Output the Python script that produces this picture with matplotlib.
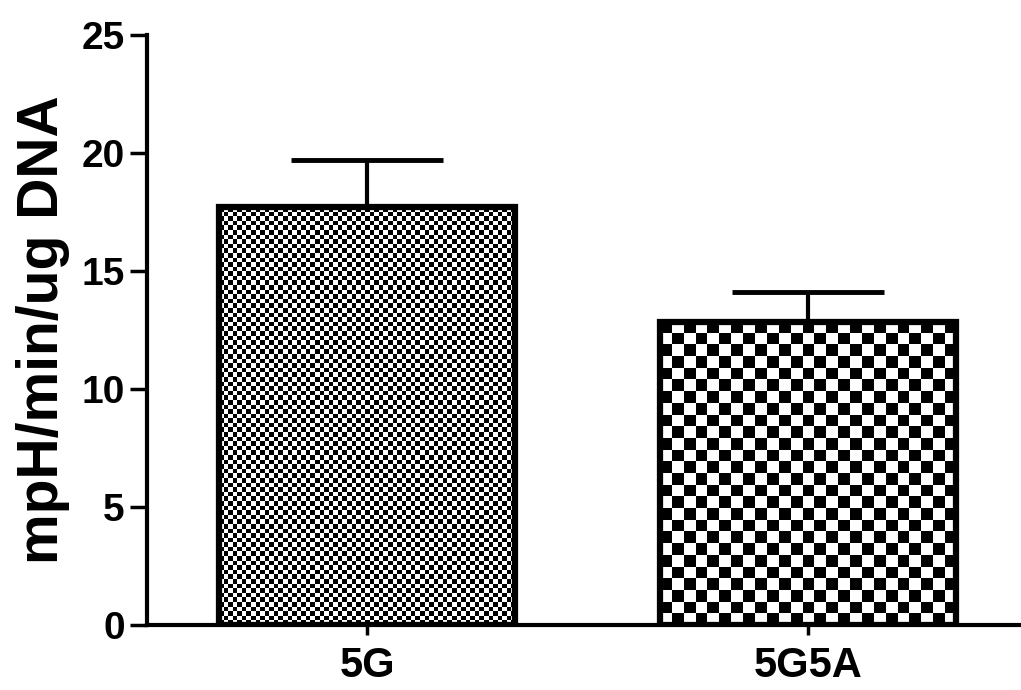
import numpy as np
import matplotlib
matplotlib.use("Agg")
import matplotlib.pyplot as plt

# data
groups = ["5G", "5G5A"]
means = [17.7, 12.85]
sem_up = [2.0, 1.25]
cell_px = [4.6, 11.8]   # checker size of each fill, in pixels

plt.rcParams["font.family"] = ["Liberation Sans", "DejaVu Sans"]
plt.rcParams["font.weight"] = "bold"

fig = plt.figure(figsize=(10.21, 6.9), dpi=100)
ax = fig.add_axes([0.144, 0.094, 0.856, 0.855])

x = np.arange(len(groups))
bars = ax.bar(x, means, width=0.673, facecolor="none", edgecolor="black",
              linewidth=4.5, zorder=3)
ax.errorbar(x, means, yerr=[np.zeros(len(means)), sem_up], fmt="none",
            ecolor="black", elinewidth=3, capsize=55, capthick=3.5, zorder=2)

ax.set_xlim(-0.499, 1.483)
ax.set_ylim(0, 25)
ax.set_yticks([0, 5, 10, 15, 20, 25])
ax.set_xticks(x)
ax.set_xticklabels(groups, fontsize=30, fontweight="bold")
ax.tick_params(axis="y", labelsize=28, width=2.5, length=12, pad=4)
ax.tick_params(axis="x", width=2.5, length=7, pad=8)
ax.set_ylabel("mpH/min/ug DNA", fontsize=41, fontweight="bold", labelpad=8)

for s in ["top", "right"]:
    ax.spines[s].set_visible(False)
for s in ["left", "bottom"]:
    ax.spines[s].set_linewidth(3)

# checkerboard fills, clipped to each bar
fig.canvas.draw()
for bar, c in zip(bars, cell_px):
    x0, y0 = bar.get_x(), 0
    x1, y1 = x0 + bar.get_width(), bar.get_height()
    p0 = ax.transData.transform((x0, y0))
    p1 = ax.transData.transform((x1, y1))
    nc = int(round((p1[0] - p0[0]) / c))
    nr = int(round((p1[1] - p0[1]) / c))
    board = (np.indices((nr, nc)).sum(axis=0) % 2).astype(float)
    im = ax.imshow(board, cmap="gray", extent=(x0, x1, y0, y1),
                   interpolation="nearest", aspect="auto", zorder=1)
    im.set_clip_path(bar)

ax.set_xlim(-0.499, 1.483)
ax.set_ylim(0, 25)

fig.savefig("out.png", dpi=100)
